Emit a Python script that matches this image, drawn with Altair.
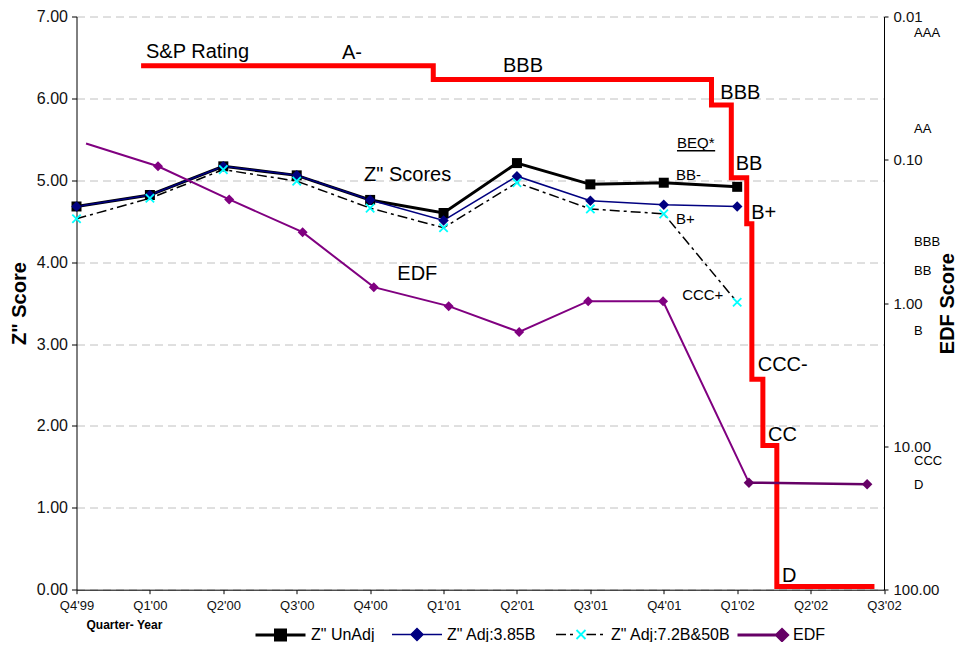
import altair as alt
import pandas as pd

FONT = "Liberation Sans"

# ---------------- data ----------------
quarters = ["Q4'99", "Q1'00", "Q2'00", "Q3'00", "Q4'00", "Q1'01",
            "Q2'01", "Q3'01", "Q4'01", "Q1'02", "Q2'02", "Q3'02"]

z_unadj = [4.68, 4.82, 5.17, 5.06, 4.76, 4.60, 5.21, 4.95, 4.97, 4.92]
z_adj_385 = [4.68, 4.82, 5.17, 5.06, 4.76, 4.51, 5.05, 4.75, 4.70, 4.68]
z_adj_72 = [4.53, 4.78, 5.13, 4.99, 4.66, 4.42, 4.97, 4.65, 4.59, 3.51]

edf_pos = [0.13, 1.11, 2.08, 3.08, 4.05, 5.07, 6.03, 6.97, 7.99, 9.16, 10.77]
edf_values = [0.077, 0.111, 0.189, 0.32, 0.774, 1.05, 1.59, 0.97, 0.97, 17.9, 18.4]

sp_pos = [0.88, 4.86, 8.65, 8.92, 9.13, 9.20, 9.35, 9.54, 10.87]
sp_level = [6.40, 6.23, 5.92, 5.03, 4.47, 2.57, 1.76, 0.04, 0.04]

big_labels = ["S&P Rating", "A-", "BBB", 'Z" Scores', "EDF", "BBB", "BB", "B+", "CCC-", "CC", "D"]
big_pos = [0.947, 3.617, 5.81, 3.917, 4.37, 8.77, 8.98, 9.19, 9.28, 9.42, 9.61]
big_level = [6.57, 6.56, 6.40, 5.07, 3.85, 6.07, 5.20, 4.60, 2.74, 1.89, 0.17]

small_labels = ["BEQ*", "BB-", "B+", "CCC+"]
small_pos = [8.18, 8.167, 8.167, 8.25]
small_level = [5.45, 5.06, 4.53, 3.60]

edf_grades = ["AAA", "AA", "BBB", "BB", "B", "CCC", "D"]
edf_grade_values = [0.0131, 0.0606, 0.374, 0.601, 1.57, 12.6, 18.6]
edf_grade_pos = [11.41] * len(edf_grades)

edf_ticks = [0.01, 0.1, 1, 10, 100]
z_ticks = list(range(8))

series_names = ['Z" UnAdj', 'Z" Adj:3.85B', 'Z" Adj:7.2B&50B', "EDF"]

# ---------------- frames ----------------
n = len(z_unadj)
unadj_df = pd.DataFrame({"x": list(range(n)), "z": z_unadj})
adj385_df = pd.DataFrame({"x": list(range(n)), "z": z_adj_385})
adj72_df = pd.DataFrame({"x": list(range(n)), "z": z_adj_72})
edf_df = pd.DataFrame({"x": edf_pos, "v": edf_values, "i": list(range(len(edf_pos)))})
sp_df = pd.DataFrame({"x": sp_pos, "z": sp_level})
big_df = pd.DataFrame({"t": big_labels, "x": big_pos, "z": big_level})
small_df = pd.DataFrame({"t": small_labels, "x": small_pos, "z": small_level})
beq_df = small_df[small_df.t == "BEQ*"].assign(x2=lambda d: d.x + 0.52, zu=lambda d: d.z - 0.09)
grade_df = pd.DataFrame({"t": edf_grades, "x": edf_grade_pos, "v": edf_grade_values})

# ---------------- scales / axes ----------------
PLOT_H = 573.2
xs = alt.Scale(domain=[0, 11], nice=False, zero=False)
zs = alt.Scale(domain=[0, 7], nice=False, zero=False)
es = alt.Scale(type="log", domain=[0.01, 100], reverse=True, nice=False)

q_expr = "".join(f"datum.value == {i} ? \"{q}\" : " for i, q in enumerate(quarters)) + "''"

x_axis = alt.Axis(
    values=list(range(len(quarters))), labelExpr=q_expr,
    title="Quarter- Year", titleFontSize=12, titleFontWeight="bold",
    titleColor="#000", titleAlign="left", titleBaseline="middle",
    titleX=9.5, titleY=35,
    labelFontSize=13, labelColor="#111", labelPadding=6,
    labelFlush=False, labelOverlap=False,
    tickSize=4, tickColor="#000", domainColor="#000", grid=False,
)
z_axis = alt.Axis(
    values=z_ticks, format=".2f",
    title='Z" Score', titleFontSize=20, titleFontWeight="bold",
    titleColor="#000", titleAngle=270, titleAlign="center", titleBaseline="middle",
    titleX=-57, titleY=PLOT_H / 2,
    labelFontSize=16, labelColor="#111", labelPadding=4,
    labelFlush=False, tickSize=5, tickColor="#000", domainColor="#000",
    grid=True, gridColor="#c0c0c0", gridDash=[8, 5],
)
edf_axis = alt.Axis(
    orient="right", values=edf_ticks, format=".2f",
    title="EDF Score", titleFontSize=20, titleFontWeight="bold",
    titleColor="#000", titleAngle=270, titleAlign="center", titleBaseline="middle",
    titleX=63, titleY=PLOT_H / 2,
    labelFontSize=15, labelColor="#111", labelPadding=5,
    labelFlush=False, labelOverlap=False, tickSize=4, tickColor="#000",
    domainColor="#000", grid=False,
)


# every layer carries the same axis definition, so the shared axes merge cleanly
def X(field="x"):
    return alt.X(f"{field}:Q", scale=xs, axis=x_axis)


def ZY(field="z"):
    return alt.Y(f"{field}:Q", scale=zs, axis=z_axis)


def EY(field="v"):
    return alt.Y(f"{field}:Q", scale=es, axis=edf_axis)


sp_line = alt.Chart(sp_df).mark_line(
    color="#ff0000", strokeWidth=5, interpolate="step-after", strokeJoin="miter"
).encode(x=X(), y=ZY())

l_unadj = alt.Chart(unadj_df).mark_line(color="#000000", strokeWidth=3).encode(x=X(), y=ZY())
l_385 = alt.Chart(adj385_df).mark_line(color="#000080", strokeWidth=1.5).encode(x=X(), y=ZY())
l_72 = alt.Chart(adj72_df).mark_line(color="#000000", strokeWidth=1.5, strokeDash=[10, 4, 3, 4]).encode(x=X(), y=ZY())

m_unadj = alt.Chart(unadj_df).mark_point(shape="square", filled=True, color="#000000", size=100, opacity=1).encode(x=X(), y=ZY())
m_385 = alt.Chart(adj385_df).mark_point(shape="diamond", filled=True, color="#000080", size=110, opacity=1).encode(x=X(), y=ZY())
m_72 = alt.Chart(adj72_df).mark_point(
    shape="M-1,-1L1,1M-1,1L1,-1", filled=False, color="#00ffff", size=70, strokeWidth=1.8, opacity=1
).encode(x=X(), y=ZY())

t_big = alt.Chart(big_df).mark_text(
    align="left", baseline="middle", font=FONT, fontSize=20, color="#000"
).encode(x=X(), y=ZY(), text="t:N")
t_small = alt.Chart(small_df).mark_text(
    align="left", baseline="middle", font=FONT, fontSize=15, color="#000"
).encode(x=X(), y=ZY(), text="t:N")
beq_rule = alt.Chart(beq_df).mark_rule(color="#000", strokeWidth=1.5).encode(
    x=X(), x2="x2:Q", y=ZY("zu"))

# legend: one single-entry native legend per series (driver points are clipped away)
leg_names = series_names + [" "]
leg_paths = [
    "M-1,0H1M-0.2,-0.2H0.2V0.2H-0.2Z",
    "M-1,0H1M0,-0.24L0.24,0L0,0.24L-0.24,0Z",
    "M-1,0H-0.6M-0.44,0H-0.32M0.22,0H0.6M0.76,0H0.88",
    "M-1,0H0.78M0.78,-0.22L1,0L0.78,0.22L0.56,0Z",
    "M-0.18,-0.18L0.18,0.18M-0.18,0.18L0.18,-0.18",
]
leg_fill = ["#000000", "#000080", "#000000", "#660066", "transparent"]
leg_stroke = ["#000000", "#000080", "#000000", "#660066", "#00ffff"]
leg_width = [3, 1.5, 1.5, 3, 1.8]
leg_x = [177.5, 314.5, 478.5, 659.5, 478.5]

legend_layers = []
for k, name in enumerate(leg_names):
    fld = f"s{k}"
    legend_layers.append(
        alt.Chart(pd.DataFrame({fld: [name], "x": [-1.0], "z": [-1.0]}))
        .mark_point(filled=True, opacity=0, clip=True).encode(
            x=X(), y=ZY(),
            color=alt.Color(f"{fld}:N",
                            scale=alt.Scale(domain=[name], range=[leg_fill[k]]),
                            legend=alt.Legend(
                                orient="none", legendX=leg_x[k], legendY=592,
                                direction="horizontal", title=None,
                                symbolType=leg_paths[k], symbolSize=2500,
                                symbolStrokeColor=leg_stroke[k],
                                symbolStrokeWidth=leg_width[k], symbolOpacity=1,
                                labelFont=FONT, labelFontSize=16, labelColor="#000",
                                labelOffset=4, padding=0, labelLimit=400)))
    )

left = alt.layer(sp_line, l_unadj, l_385, l_72, m_unadj, m_385, m_72,
                 t_big, t_small, beq_rule, *legend_layers).resolve_scale(color="independent")

edf_line = alt.Chart(edf_df).transform_filter("datum.i <= 9").mark_line(
    color="#800080", strokeWidth=2).encode(x=X(), y=EY())
edf_line_b = alt.Chart(edf_df).transform_filter("datum.i >= 9").mark_line(
    color="#660066", strokeWidth=2.5).encode(x=X(), y=EY())
edf_pts = alt.Chart(edf_df).transform_filter("datum.i >= 1 && datum.i <= 8").mark_point(
    shape="diamond", filled=True, color="#800080", size=100, opacity=1).encode(x=X(), y=EY())
edf_pts_b = alt.Chart(edf_df).transform_filter("datum.i >= 9").mark_point(
    shape="diamond", filled=True, color="#660066", size=110, opacity=1).encode(x=X(), y=EY())
grades = alt.Chart(grade_df).mark_text(
    align="left", baseline="middle", font=FONT, fontSize=13, color="#000").encode(
    x=X(), y=EY(), text="t:N")

right = alt.layer(edf_line, edf_line_b, edf_pts, edf_pts_b, grades)

chart = alt.layer(left, right).resolve_scale(y="independent").properties(
    width=807.5, height=PLOT_H,
    autosize=alt.AutoSizeParams(type="none"),
    padding={"left": 68.5, "top": 8.5, "right": 75, "bottom": 52.3},
).configure(font=FONT).configure_view(strokeWidth=0)

chart.save("out.html", embed_options={"renderer": "svg", "actions": False})
